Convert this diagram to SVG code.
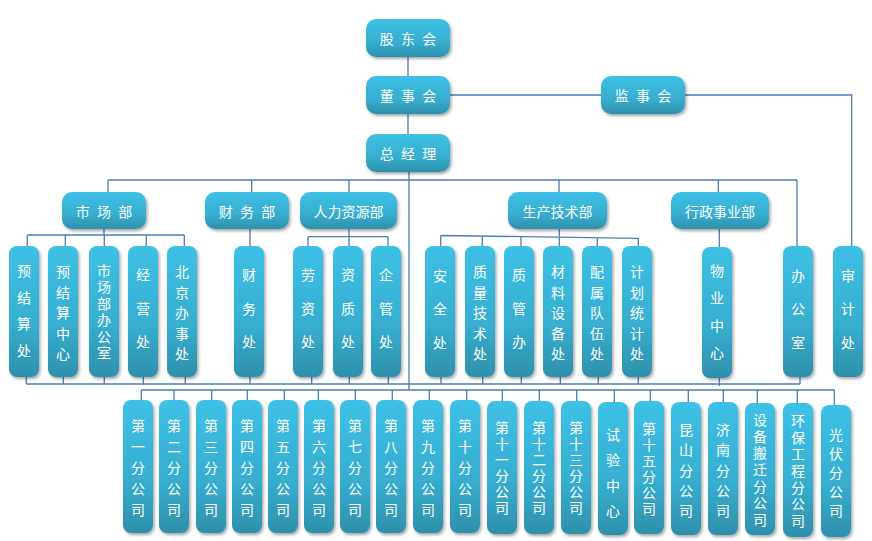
<svg xmlns="http://www.w3.org/2000/svg" width="872" height="541" viewBox="0 0 872 541">
<defs>
<linearGradient id="g" x1="0" y1="0" x2="0" y2="1">
<stop offset="0" stop-color="#3dc1e6"/>
<stop offset="0.6" stop-color="#37aed0"/>
<stop offset="1" stop-color="#2e90ab"/>
</linearGradient>
<filter id="sh" x="-30%" y="-20%" width="170%" height="150%">
<feDropShadow dx="1.5" dy="2" stdDeviation="1.6" flood-color="#000" flood-opacity="0.35"/>
</filter>
<style>
.b{fill:url(#g);filter:url(#sh)}
text{fill:#fff;font-family:"Noto Sans CJK SC","Noto Sans CJK TC",sans-serif;font-size:14px;text-anchor:middle;dominant-baseline:central}
.h{letter-spacing:2px}
.c{stroke:#4a7ebb;stroke-width:1.3;fill:none}
</style>
</defs>
<g id="connectors" class="c">
<path d="M408 57V76M408 114V134M450 95H601M685 95H851.7V246"/>
<path d="M409 172V390M108 180H797M108 180V192M251.7 180V192M349 180V192M559 180V192M718.3 180V192M797 180V246"/>
<path d="M104 229V235M27.3 235H184.3M27.3 235V246M65.3 235V246M104.3 235V246M146.3 235V246M184.3 235V246"/>
<path d="M250 229V246"/>
<path d="M349 229V236.7M308 236.7H388M308 236.7V246M349 236.7V246M388 236.7V246"/>
<path d="M559.3 229V236.5M440.7 235.5L638.3 238.3M440.7 235.5V246M482.3 236V246M521 236.6V246M559.3 237.1V246M597.3 237.7V246M638.3 238.3V246"/>
<path d="M719.3 229V247"/>
<path d="M26.3 384H800M26.3 377V384M63.3 377V384M104.3 377V384M143.3 377V384M185.3 377V384M250 377V384M311.7 377V384M349.3 377V384M388.3 377V384M441 377V384M482.7 377V384M521.3 377V384M560.3 377V384M598.3 377V384M638.3 377V384M719.3 378V386M800 377V384"/>
<path d="M141.3 390H834.3M141.3 390V400M174 390V400M211.7 390V400M247.3 390V400M284.3 390V400M318.3 390V400M355.3 390V400M392.3 390V400M429.3 390V400M466.7 390V400M502.3 390V401M539.3 390V401M576.7 390V401M614.3 390V402M650.3 390V401M688.3 390V402M723.3 390V402M757.3 390V403M797.3 390V403M834.3 390V405"/>
</g>
<g id="gudonghui"><rect class="b" x="366" y="19" width="84" height="38" rx="10"/><text class="h" x="409" y="38">股 东 会</text></g>
<g id="dongshihui"><rect class="b" x="366" y="76" width="84" height="38" rx="10"/><text class="h" x="409" y="95">董 事 会</text></g>
<g id="zongjingli"><rect class="b" x="366" y="134" width="84" height="38" rx="10"/><text class="h" x="409" y="153">总 经 理</text></g>
<g id="jianshihui"><rect class="b" x="601" y="76" width="84" height="38" rx="10"/><text class="h" x="644" y="95">监 事 会</text></g>
<g id="shichangbu"><rect class="b" x="62" y="192" width="84" height="37" rx="10"/><text class="h" x="105" y="210.5">市 场 部</text></g>
<g id="caiwubu"><rect class="b" x="205" y="192" width="84" height="37" rx="10"/><text class="h" x="248" y="210.5">财 务 部</text></g>
<g id="renliziyuanbu"><rect class="b" x="300" y="192" width="97" height="37" rx="10"/><text x="348.5" y="210.5">人力资源部</text></g>
<g id="shengchanjishubu"><rect class="b" x="508" y="192" width="99" height="37" rx="10"/><text x="557.5" y="210.5">生产技术部</text></g>
<g id="xingzhengshiyebu"><rect class="b" x="671" y="192" width="98" height="37" rx="10"/><text x="720" y="210.5">行政事业部</text></g>
<g id="yujiesuanchu"><rect class="b" x="9" y="246" width="30" height="131" rx="8"/><text><tspan x="24" y="270">预</tspan><tspan x="24" y="296.7">结</tspan><tspan x="24" y="323.3">算</tspan><tspan x="24" y="350">处</tspan></text></g>
<g id="yujiesuanzhongxin"><rect class="b" x="48" y="246" width="30" height="131" rx="8"/><text><tspan x="63" y="271">预</tspan><tspan x="63" y="291.5">结</tspan><tspan x="63" y="312">算</tspan><tspan x="63" y="332.5">中</tspan><tspan x="63" y="353">心</tspan></text></g>
<g id="shichangbubangongshi"><rect class="b" x="89" y="246" width="30" height="131" rx="8"/><text><tspan x="104" y="270">市</tspan><tspan x="104" y="286.4">场</tspan><tspan x="104" y="302.8">部</tspan><tspan x="104" y="319.2">办</tspan><tspan x="104" y="335.6">公</tspan><tspan x="104" y="352">室</tspan></text></g>
<g id="jingyingchu"><rect class="b" x="128" y="246" width="30" height="131" rx="8"/><text><tspan x="143" y="274">经</tspan><tspan x="143" y="307.5">营</tspan><tspan x="143" y="341">处</tspan></text></g>
<g id="beijingbanshichu"><rect class="b" x="167" y="246" width="30" height="131" rx="8"/><text><tspan x="182" y="271">北</tspan><tspan x="182" y="291.5">京</tspan><tspan x="182" y="312">办</tspan><tspan x="182" y="332.5">事</tspan><tspan x="182" y="353">处</tspan></text></g>
<g id="caiwuchu"><rect class="b" x="234" y="246" width="30" height="131" rx="8"/><text><tspan x="249" y="274">财</tspan><tspan x="249" y="307.5">务</tspan><tspan x="249" y="341">处</tspan></text></g>
<g id="laozichu"><rect class="b" x="293" y="246" width="30" height="131" rx="8"/><text><tspan x="308" y="274">劳</tspan><tspan x="308" y="307.5">资</tspan><tspan x="308" y="341">处</tspan></text></g>
<g id="zizhichu"><rect class="b" x="333" y="246" width="30" height="131" rx="8"/><text><tspan x="348" y="274">资</tspan><tspan x="348" y="307.5">质</tspan><tspan x="348" y="341">处</tspan></text></g>
<g id="qiguanchu"><rect class="b" x="371" y="246" width="30" height="131" rx="8"/><text><tspan x="386" y="274">企</tspan><tspan x="386" y="307.5">管</tspan><tspan x="386" y="341">处</tspan></text></g>
<g id="anquanchu"><rect class="b" x="425" y="246" width="30" height="131" rx="8"/><text><tspan x="440" y="275">安</tspan><tspan x="440" y="308">全</tspan><tspan x="440" y="341.5">处</tspan></text></g>
<g id="zhiliangjishuchu"><rect class="b" x="465" y="246" width="30" height="131" rx="8"/><text><tspan x="480" y="271">质</tspan><tspan x="480" y="291.5">量</tspan><tspan x="480" y="312">技</tspan><tspan x="480" y="332.5">术</tspan><tspan x="480" y="353">处</tspan></text></g>
<g id="zhiguanban"><rect class="b" x="504" y="246" width="30" height="131" rx="8"/><text><tspan x="519" y="274">质</tspan><tspan x="519" y="307.5">管</tspan><tspan x="519" y="341">办</tspan></text></g>
<g id="cailiaoshebeichu"><rect class="b" x="543" y="246" width="30" height="131" rx="8"/><text><tspan x="558" y="271">材</tspan><tspan x="558" y="291.5">料</tspan><tspan x="558" y="312">设</tspan><tspan x="558" y="332.5">备</tspan><tspan x="558" y="353">处</tspan></text></g>
<g id="peishuduiwuchu"><rect class="b" x="582" y="246" width="30" height="131" rx="8"/><text><tspan x="597" y="271">配</tspan><tspan x="597" y="291.5">属</tspan><tspan x="597" y="312">队</tspan><tspan x="597" y="332.5">伍</tspan><tspan x="597" y="353">处</tspan></text></g>
<g id="jihuatongjichu"><rect class="b" x="622" y="246" width="30" height="131" rx="8"/><text><tspan x="637" y="271">计</tspan><tspan x="637" y="291.5">划</tspan><tspan x="637" y="312">统</tspan><tspan x="637" y="332.5">计</tspan><tspan x="637" y="353">处</tspan></text></g>
<g id="wuyezhongxin"><rect class="b" x="702" y="247" width="30" height="131" rx="8"/><text><tspan x="717" y="270">物</tspan><tspan x="717" y="297.3">业</tspan><tspan x="717" y="324.7">中</tspan><tspan x="717" y="352">心</tspan></text></g>
<g id="bangongshi"><rect class="b" x="783" y="246" width="30" height="131" rx="8"/><text><tspan x="798" y="275">办</tspan><tspan x="798" y="308">公</tspan><tspan x="798" y="341.5">室</tspan></text></g>
<g id="shenjichu"><rect class="b" x="833" y="246" width="30" height="131" rx="8"/><text><tspan x="848" y="275">审</tspan><tspan x="848" y="308">计</tspan><tspan x="848" y="341.5">处</tspan></text></g>
<g id="fen1"><rect class="b" x="123" y="400" width="30" height="133" rx="8"/><text><tspan x="138" y="425">第</tspan><tspan x="138" y="445.9">一</tspan><tspan x="138" y="466.8">分</tspan><tspan x="138" y="487.6">公</tspan><tspan x="138" y="508.5">司</tspan></text></g>
<g id="fen2"><rect class="b" x="159" y="400" width="30" height="133" rx="8"/><text><tspan x="174" y="425">第</tspan><tspan x="174" y="445.9">二</tspan><tspan x="174" y="466.8">分</tspan><tspan x="174" y="487.6">公</tspan><tspan x="174" y="508.5">司</tspan></text></g>
<g id="fen3"><rect class="b" x="196" y="400" width="30" height="133" rx="8"/><text><tspan x="211" y="425">第</tspan><tspan x="211" y="445.9">三</tspan><tspan x="211" y="466.8">分</tspan><tspan x="211" y="487.6">公</tspan><tspan x="211" y="508.5">司</tspan></text></g>
<g id="fen4"><rect class="b" x="232" y="400" width="30" height="133" rx="8"/><text><tspan x="247" y="425">第</tspan><tspan x="247" y="445.9">四</tspan><tspan x="247" y="466.8">分</tspan><tspan x="247" y="487.6">公</tspan><tspan x="247" y="508.5">司</tspan></text></g>
<g id="fen5"><rect class="b" x="268" y="400" width="30" height="133" rx="8"/><text><tspan x="283" y="425">第</tspan><tspan x="283" y="445.9">五</tspan><tspan x="283" y="466.8">分</tspan><tspan x="283" y="487.6">公</tspan><tspan x="283" y="508.5">司</tspan></text></g>
<g id="fen6"><rect class="b" x="304" y="400" width="30" height="133" rx="8"/><text><tspan x="319" y="425">第</tspan><tspan x="319" y="445.9">六</tspan><tspan x="319" y="466.8">分</tspan><tspan x="319" y="487.6">公</tspan><tspan x="319" y="508.5">司</tspan></text></g>
<g id="fen7"><rect class="b" x="340" y="400" width="30" height="133" rx="8"/><text><tspan x="355" y="425">第</tspan><tspan x="355" y="445.9">七</tspan><tspan x="355" y="466.8">分</tspan><tspan x="355" y="487.6">公</tspan><tspan x="355" y="508.5">司</tspan></text></g>
<g id="fen8"><rect class="b" x="376" y="400" width="30" height="133" rx="8"/><text><tspan x="391" y="425">第</tspan><tspan x="391" y="445.9">八</tspan><tspan x="391" y="466.8">分</tspan><tspan x="391" y="487.6">公</tspan><tspan x="391" y="508.5">司</tspan></text></g>
<g id="fen9"><rect class="b" x="413" y="400" width="30" height="133" rx="8"/><text><tspan x="428" y="425">第</tspan><tspan x="428" y="445.9">九</tspan><tspan x="428" y="466.8">分</tspan><tspan x="428" y="487.6">公</tspan><tspan x="428" y="508.5">司</tspan></text></g>
<g id="fen10"><rect class="b" x="450" y="400" width="30" height="133" rx="8"/><text><tspan x="465" y="425">第</tspan><tspan x="465" y="445.9">十</tspan><tspan x="465" y="466.8">分</tspan><tspan x="465" y="487.6">公</tspan><tspan x="465" y="508.5">司</tspan></text></g>
<g id="fen11"><rect class="b" x="487" y="401" width="30" height="133" rx="8"/><text><tspan x="502" y="427">第</tspan><tspan x="502" y="443">十</tspan><tspan x="502" y="459">一</tspan><tspan x="502" y="475">分</tspan><tspan x="502" y="491">公</tspan><tspan x="502" y="507">司</tspan></text></g>
<g id="fen12"><rect class="b" x="524" y="401" width="30" height="133" rx="8"/><text><tspan x="539" y="427">第</tspan><tspan x="539" y="443">十</tspan><tspan x="539" y="459">二</tspan><tspan x="539" y="475">分</tspan><tspan x="539" y="491">公</tspan><tspan x="539" y="507">司</tspan></text></g>
<g id="fen13"><rect class="b" x="561" y="401" width="30" height="133" rx="8"/><text><tspan x="576" y="427">第</tspan><tspan x="576" y="443">十</tspan><tspan x="576" y="459">三</tspan><tspan x="576" y="475">分</tspan><tspan x="576" y="491">公</tspan><tspan x="576" y="507">司</tspan></text></g>
<g id="shiyanzhongxin"><rect class="b" x="598" y="402" width="30" height="133" rx="8"/><text><tspan x="613" y="433.5">试</tspan><tspan x="613" y="459">验</tspan><tspan x="613" y="484.5">中</tspan><tspan x="613" y="510">心</tspan></text></g>
<g id="fen15"><rect class="b" x="634" y="401" width="30" height="133" rx="8"/><text><tspan x="649" y="428">第</tspan><tspan x="649" y="444">十</tspan><tspan x="649" y="460">五</tspan><tspan x="649" y="476">分</tspan><tspan x="649" y="492">公</tspan><tspan x="649" y="508">司</tspan></text></g>
<g id="kunshan"><rect class="b" x="671" y="402" width="30" height="133" rx="8"/><text><tspan x="686" y="429">昆</tspan><tspan x="686" y="449.3">山</tspan><tspan x="686" y="469.5">分</tspan><tspan x="686" y="489.8">公</tspan><tspan x="686" y="510">司</tspan></text></g>
<g id="jinan"><rect class="b" x="708" y="402" width="30" height="133" rx="8"/><text><tspan x="723" y="429">济</tspan><tspan x="723" y="449.3">南</tspan><tspan x="723" y="469.5">分</tspan><tspan x="723" y="489.8">公</tspan><tspan x="723" y="510">司</tspan></text></g>
<g id="shebeibanqian"><rect class="b" x="745" y="403" width="30" height="132" rx="8"/><text><tspan x="760" y="419">设</tspan><tspan x="760" y="435.7">备</tspan><tspan x="760" y="452.3">搬</tspan><tspan x="760" y="469">迁</tspan><tspan x="760" y="485.7">分</tspan><tspan x="760" y="502.3">公</tspan><tspan x="760" y="519">司</tspan></text></g>
<g id="huanbaogongcheng"><rect class="b" x="783" y="403" width="30" height="134" rx="8"/><text><tspan x="798" y="420">环</tspan><tspan x="798" y="436.7">保</tspan><tspan x="798" y="453.3">工</tspan><tspan x="798" y="470">程</tspan><tspan x="798" y="486.7">分</tspan><tspan x="798" y="503.3">公</tspan><tspan x="798" y="520">司</tspan></text></g>
<g id="guangfu"><rect class="b" x="821" y="405" width="30" height="132" rx="8"/><text><tspan x="836" y="433.5">光</tspan><tspan x="836" y="452.6">伏</tspan><tspan x="836" y="471.8">分</tspan><tspan x="836" y="490.9">公</tspan><tspan x="836" y="510">司</tspan></text></g>
</svg>
